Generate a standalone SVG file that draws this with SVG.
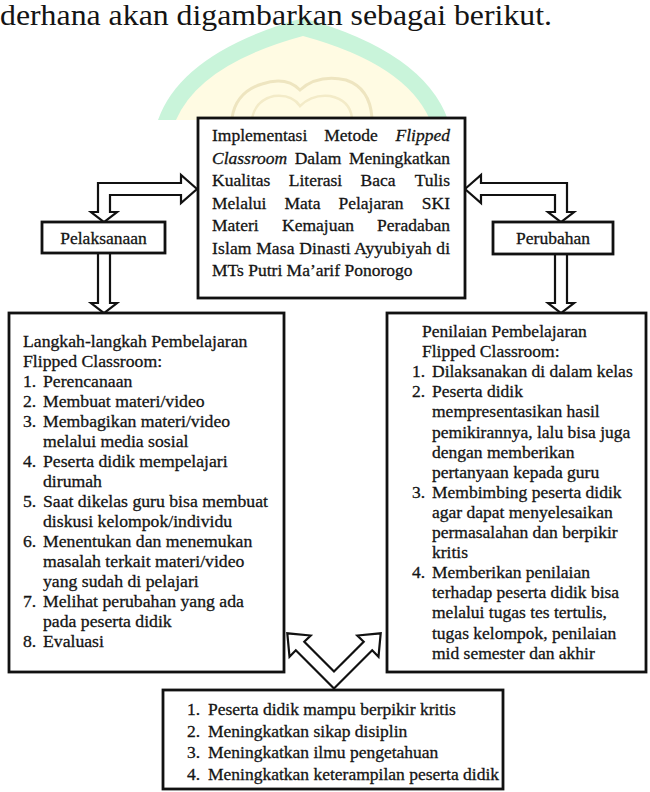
<svg xmlns="http://www.w3.org/2000/svg" width="650" height="792" viewBox="0 0 650 792">
<style>
text{font-family:"Liberation Serif","Times New Roman","DejaVu Serif",serif;fill:#141414;stroke:#141414;stroke-width:0.3}
.t{font-size:17.5px}
.b{font-size:17.7px}
.it{font-style:italic}
.box{fill:#fff;stroke:#111;stroke-width:2.8}
.arr{fill:#fff;stroke:#111;stroke-width:2.2;stroke-linejoin:miter}
.e{text-anchor:end}
.m{text-anchor:middle}
</style>
<rect width="650" height="792" fill="#fff"/>
<g id="watermark">
<path d="M158 120 Q182 52 303 18 Q424 52 448 120 Z" fill="#c9f4da"/>
<path d="M176 120 Q200 64 303 36 Q406 64 430 120 Z" fill="#fffbe3"/>
<path d="M232 118 Q236 92 262 84 Q286 76 300 90 Q318 74 346 80 Q370 88 372 118" fill="none" stroke="#eee5c0" stroke-width="3"/>
<path d="M252 118 Q256 100 274 96 Q292 94 300 106 Q312 94 330 96 Q350 100 352 118" fill="none" stroke="#f3ebc8" stroke-width="2.5"/>
</g>
<text x="0" y="25" font-size="29" style="stroke-width:0" textLength="552" lengthAdjust="spacingAndGlyphs">derhana akan digambarkan sebagai berikut.</text>

<g id="connectors">
<polygon class="arr" points="197,189 181,175 181,183 98,183 98,212 91,212 104,222 117,212 110,212 110,195 181,195 181,203"/>
<polygon class="arr" points="465,189 481,175 481,183 567,183 567,212 574,212 561,222 548,212 555,212 555,195 481,195 481,203"/>
<polygon class="arr" points="98,253 98,303 91,303 104,313 117,303 110,303 110,253"/>
<polygon class="arr" points="555,254 555,303 548,303 561,313 574,303 567,303 567,254"/>
<polygon class="arr" points="334,688.5 295.8,650.3 289.5,656.7 287.3,633.3 310.7,635.5 304.3,641.8 334,671.5 363.7,641.8 357.3,635.5 380.7,633.3 378.5,656.7 372.2,650.3"/>
</g>

<g id="main">
<rect class="box" x="198" y="118" width="267" height="180"/>
<text class="t" x="212" y="141">Implementasi</text>
<text class="t m" x="351" y="141">Metode</text>
<text class="t e it" x="450" y="141">Flipped</text>
<text class="t it" x="212" y="163.5">Classroom</text>
<text class="t m" x="318" y="163.5">Dalam</text>
<text class="t e" x="450" y="163.5">Meningkatkan</text>
<text class="t" x="212" y="186">Kualitas</text>
<text class="t m" x="315.5" y="186">Literasi</text>
<text class="t m" x="378" y="186">Baca</text>
<text class="t e" x="450" y="186">Tulis</text>
<text class="t" x="212" y="208.5">Melalui</text>
<text class="t m" x="302.5" y="208.5">Mata</text>
<text class="t m" x="371" y="208.5">Pelajaran</text>
<text class="t e" x="450" y="208.5">SKI</text>
<text class="t" x="212" y="231">Materi</text>
<text class="t m" x="318" y="231">Kemajuan</text>
<text class="t e" x="450" y="231">Peradaban</text>
<text class="t" x="212" y="253.5" textLength="238" lengthAdjust="spacing">Islam Masa Dinasti Ayyubiyah di</text>
<text class="t" x="212" y="276">MTs Putri Ma’arif Ponorogo</text>
</g>

<g id="pelaksanaan">
<rect class="box" x="42" y="222" width="123" height="31"/>
<text class="t m" x="103.5" y="244">Pelaksanaan</text>
</g>

<g id="perubahan">
<rect class="box" x="493" y="222" width="120" height="32"/>
<text class="t m" x="553" y="244">Perubahan</text>
</g>

<g id="langkah">
<rect class="box" x="9" y="313" width="275" height="359"/>
<text class="b" x="23" y="347">Langkah-langkah Pembelajaran</text>
<text class="b" x="23" y="367">Flipped Classroom:</text>
<text class="b" x="23" y="387">1.</text><text class="b" x="43" y="387">Perencanaan</text>
<text class="b" x="23" y="407">2.</text><text class="b" x="43" y="407">Membuat materi/video</text>
<text class="b" x="23" y="427">3.</text><text class="b" x="43" y="427">Membagikan materi/video</text>
<text class="b" x="43" y="447">melalui media sosial</text>
<text class="b" x="23" y="467">4.</text><text class="b" x="43" y="467">Peserta didik mempelajari</text>
<text class="b" x="43" y="487">dirumah</text>
<text class="b" x="23" y="507">5.</text><text class="b" x="43" y="507">Saat dikelas guru bisa membuat</text>
<text class="b" x="43" y="527">diskusi kelompok/individu</text>
<text class="b" x="23" y="547">6.</text><text class="b" x="43" y="547">Menentukan dan menemukan</text>
<text class="b" x="43" y="567">masalah terkait materi/video</text>
<text class="b" x="43" y="587">yang sudah di pelajari</text>
<text class="b" x="23" y="607">7.</text><text class="b" x="43" y="607">Melihat perubahan yang ada</text>
<text class="b" x="43" y="627">pada peserta didik</text>
<text class="b" x="23" y="647">8.</text><text class="b" x="43" y="647">Evaluasi</text>
</g>

<g id="penilaian">
<rect class="box" x="387" y="313" width="259" height="359"/>
<text class="t" x="422" y="337">Penilaian Pembelajaran</text>
<text class="t" x="422" y="357.1">Flipped Classroom:</text>
<text class="t" x="412" y="377.2">1.</text><text class="t" x="432" y="377.2">Dilaksanakan di dalam kelas</text>
<text class="t" x="412" y="397.3">2.</text><text class="t" x="432" y="397.3">Peserta didik</text>
<text class="t" x="432" y="417.4">mempresentasikan hasil</text>
<text class="t" x="432" y="437.5">pemikirannya, lalu bisa juga</text>
<text class="t" x="432" y="457.6">dengan memberikan</text>
<text class="t" x="432" y="477.7">pertanyaan kepada guru</text>
<text class="t" x="412" y="497.8">3.</text><text class="t" x="432" y="497.8">Membimbing peserta didik</text>
<text class="t" x="432" y="517.9">agar dapat menyelesaikan</text>
<text class="t" x="432" y="538">permasalahan dan berpikir</text>
<text class="t" x="432" y="558.1">kritis</text>
<text class="t" x="412" y="578.2">4.</text><text class="t" x="432" y="578.2">Memberikan penilaian</text>
<text class="t" x="432" y="598.3">terhadap peserta didik bisa</text>
<text class="t" x="432" y="618.4">melalui tugas tes tertulis,</text>
<text class="t" x="432" y="638.5">tugas kelompok, penilaian</text>
<text class="t" x="432" y="658.6">mid semester dan akhir</text>
</g>

<g id="hasil">
<rect class="box" x="163" y="690" width="340" height="99"/>
<text class="t" x="187" y="715">1.</text><text class="t" x="208" y="715">Peserta didik mampu berpikir kritis</text>
<text class="t" x="187" y="737">2.</text><text class="t" x="208" y="737">Meningkatkan sikap disiplin</text>
<text class="t" x="187" y="758">3.</text><text class="t" x="208" y="758">Meningkatkan ilmu pengetahuan</text>
<text class="t" x="187" y="780">4.</text><text class="t" x="208" y="780">Meningkatkan keterampilan peserta didik</text>
</g>
</svg>
